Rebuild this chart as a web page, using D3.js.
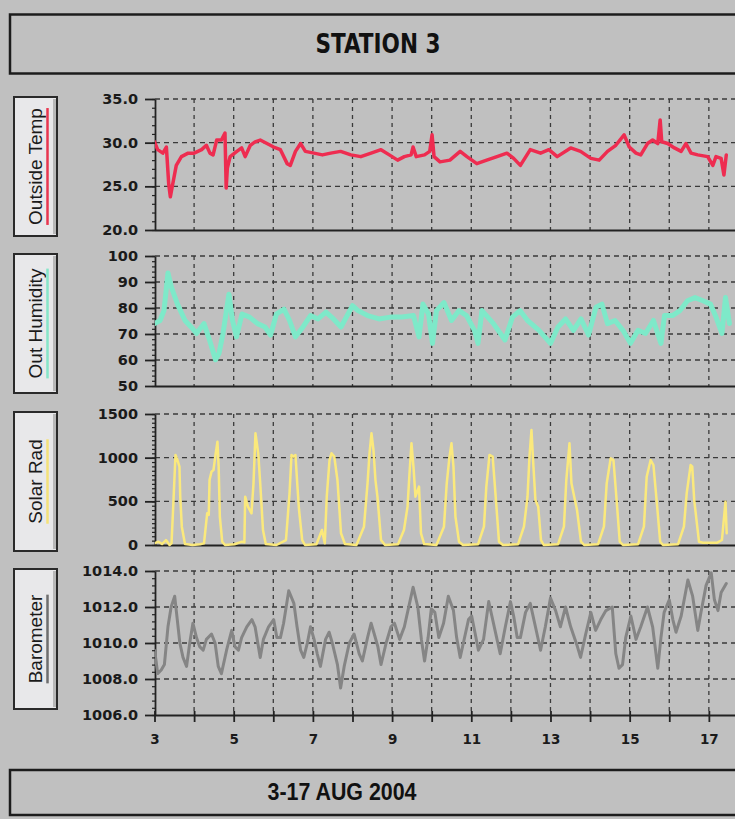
<!DOCTYPE html>
<html><head><meta charset="utf-8">
<script src="https://cdn.jsdelivr.net/npm/d3@7"></script>
<style>html,body{margin:0;padding:0;background:#c0c0c0;}svg{display:block}</style>
</head><body>
<svg id="c" width="735" height="819"></svg>
<script>
// ---------- DATA ----------
const titleText = "STATION 3";
const footerText = "3-17 AUG 2004";
const seriesNames = ["Outside Temp", "Out Humidity", "Solar Rad", "Barometer"];

const tempDays = [3.00,3.08,3.21,3.30,3.36,3.40,3.47,3.55,3.68,3.85,4.00,4.19,4.31,4.40,4.48,4.57,4.69,4.78,4.81,4.84,4.91,5.08,5.20,5.29,5.42,5.54,5.67,5.84,6.01,6.18,6.35,6.43,6.56,6.69,6.81,7.03,7.24,7.45,7.70,7.96,8.21,8.47,8.72,8.93,9.14,9.31,9.48,9.53,9.61,9.82,9.95,10.01,10.06,10.21,10.46,10.72,10.89,11.14,11.39,11.65,11.90,12.07,12.24,12.49,12.75,12.96,13.17,13.51,13.76,14.02,14.23,14.44,14.65,14.86,14.99,15.16,15.28,15.45,15.58,15.71,15.77,15.81,15.96,16.13,16.30,16.42,16.55,16.72,16.97,17.10,17.18,17.31,17.38,17.44];
const tempVals = [30.1,29.2,28.8,29.5,25.2,23.8,25.5,27.4,28.4,28.8,28.8,29.2,29.7,28.8,28.6,30.3,30.3,31.1,24.8,27.1,28.4,29.0,29.4,28.4,29.7,30.1,30.3,29.9,29.5,29.2,27.6,27.4,29.0,29.9,29.0,28.8,28.6,28.8,29.0,28.6,28.4,28.8,29.2,28.6,28.0,28.4,28.6,29.5,28.4,28.6,29.0,30.9,28.4,27.8,28.0,29.0,28.4,27.6,28.0,28.4,28.8,28.2,27.4,29.2,28.8,29.2,28.4,29.4,29.0,28.2,28.0,29.0,29.7,30.9,29.5,28.8,28.6,29.9,30.3,29.9,32.6,30.1,29.9,29.4,29.0,29.9,28.8,28.6,28.4,27.4,28.4,28.2,26.3,28.6];

const humDays = [3.00,3.14,3.24,3.34,3.43,3.58,3.77,3.96,4.06,4.25,4.39,4.54,4.63,4.73,4.88,4.97,5.07,5.21,5.40,5.60,5.79,5.93,6.08,6.27,6.41,6.56,6.75,6.94,7.13,7.33,7.52,7.71,8.00,8.14,8.38,8.67,8.96,9.25,9.54,9.68,9.78,9.92,10.02,10.12,10.31,10.50,10.69,10.88,11.08,11.17,11.27,11.56,11.85,12.04,12.23,12.42,12.71,13.00,13.19,13.38,13.58,13.77,13.96,14.15,14.30,14.44,14.63,14.83,15.02,15.21,15.40,15.60,15.79,15.88,16.08,16.27,16.46,16.65,16.85,17.04,17.18,17.33,17.42,17.52];
const humVals = [74.0,75.2,79.0,93.5,87.8,81.5,75.2,72.1,70.2,74.0,67.7,60.1,62.6,70.2,85.3,75.2,68.9,77.7,76.5,74.0,72.7,69.6,77.7,79.6,75.2,68.9,72.7,77.1,75.8,78.4,75.8,72.7,80.9,79.0,77.1,75.8,76.5,76.5,77.1,68.9,81.5,77.7,66.4,79.0,82.1,75.2,79.0,77.1,71.4,66.4,79.0,74.0,67.7,76.5,79.0,75.2,71.4,66.4,72.7,75.8,71.4,75.8,69.6,80.3,81.5,74.0,75.2,71.4,66.4,71.4,70.2,75.2,66.4,77.1,77.1,79.0,82.8,84.0,82.8,81.5,76.5,70.2,84.0,74.0];

const solarDays = [3.00,3.10,3.19,3.29,3.38,3.43,3.48,3.53,3.58,3.63,3.65,3.69,3.77,3.96,4.15,4.25,4.33,4.37,4.39,4.44,4.49,4.54,4.59,4.62,4.65,4.71,4.78,5.02,5.21,5.27,5.29,5.36,5.45,5.50,5.55,5.62,5.67,5.74,5.81,6.08,6.32,6.41,6.46,6.51,6.56,6.61,6.65,6.73,6.80,7.09,7.23,7.30,7.35,7.42,7.47,7.54,7.62,7.71,7.81,8.10,8.29,8.38,8.43,8.48,8.53,8.58,8.63,8.72,8.82,9.15,9.30,9.39,9.44,9.49,9.54,9.59,9.68,9.73,9.81,10.12,10.31,10.38,10.45,10.50,10.55,10.60,10.69,10.79,11.17,11.32,11.38,11.46,11.54,11.61,11.70,11.80,12.18,12.33,12.42,12.47,12.52,12.57,12.62,12.69,12.76,12.83,13.19,13.34,13.40,13.48,13.53,13.60,13.67,13.77,13.85,14.20,14.35,14.42,14.52,14.59,14.65,14.75,14.83,15.21,15.36,15.43,15.53,15.60,15.68,15.77,15.84,16.22,16.37,16.44,16.54,16.58,16.63,16.75,16.85,17.20,17.33,17.42,17.45];
const solarVals = [19,38,11,57,0,19,515,1031,973,897,553,210,11,0,8,19,363,344,744,840,859,1031,1183,897,324,38,0,8,38,30,553,439,363,706,1279,1050,706,172,11,0,57,592,1031,1012,1031,668,401,57,0,8,172,19,553,973,1050,1012,744,134,11,0,210,706,1050,1279,1088,744,553,57,0,8,172,439,821,1164,897,553,668,134,11,0,210,706,1012,1164,897,324,38,0,8,210,668,1031,1012,592,38,0,8,210,553,1012,1317,897,515,439,57,0,8,210,744,1164,706,553,401,38,0,8,210,706,992,973,630,38,0,8,210,782,973,916,515,38,0,8,210,592,916,897,515,38,25,25,57,496,134];

const baroDays = [3.00,3.04,3.08,3.17,3.25,3.34,3.42,3.51,3.55,3.64,3.72,3.81,3.89,3.97,4.06,4.14,4.23,4.31,4.44,4.53,4.61,4.69,4.82,4.95,5.03,5.12,5.20,5.33,5.46,5.54,5.67,5.75,5.88,6.01,6.09,6.18,6.26,6.39,6.52,6.60,6.69,6.77,6.86,6.94,7.03,7.11,7.19,7.32,7.41,7.49,7.62,7.70,7.79,7.92,8.04,8.17,8.25,8.38,8.47,8.55,8.64,8.72,8.85,8.97,9.06,9.19,9.31,9.44,9.53,9.65,9.74,9.82,9.91,9.99,10.08,10.18,10.30,10.42,10.55,10.63,10.72,10.80,10.93,11.01,11.10,11.18,11.31,11.44,11.52,11.65,11.73,11.86,11.99,12.07,12.16,12.24,12.37,12.49,12.62,12.75,12.87,13.00,13.13,13.25,13.38,13.51,13.68,13.76,13.89,14.02,14.14,14.27,14.40,14.56,14.65,14.73,14.82,14.90,15.03,15.16,15.28,15.45,15.58,15.71,15.79,15.87,16.00,16.09,16.17,16.30,16.47,16.59,16.72,16.80,16.93,17.06,17.14,17.23,17.31,17.44];
const baroVals = [1009.6,1009.0,1008.3,1008.5,1008.8,1010.9,1012.0,1012.6,1011.8,1010.0,1009.2,1008.7,1010.0,1011.1,1010.3,1009.8,1009.6,1010.2,1010.5,1010.0,1008.7,1008.3,1009.6,1010.7,1009.8,1009.6,1010.3,1010.9,1011.3,1010.9,1009.2,1010.2,1010.9,1011.3,1010.3,1010.3,1011.1,1012.9,1012.2,1010.9,1009.6,1009.2,1010.0,1010.9,1010.2,1009.4,1008.7,1010.2,1010.6,1010.0,1008.8,1007.5,1008.7,1010.0,1010.5,1009.4,1009.0,1010.3,1011.1,1010.5,1009.8,1008.8,1010.0,1010.9,1011.1,1010.2,1010.9,1012.2,1013.1,1012.0,1010.2,1009.0,1010.3,1011.9,1011.7,1010.3,1011.1,1012.6,1011.8,1010.3,1009.2,1010.0,1011.3,1011.5,1010.5,1009.6,1010.2,1012.3,1011.5,1010.2,1009.4,1010.9,1012.3,1011.5,1010.3,1010.3,1011.7,1012.2,1010.9,1009.6,1010.9,1012.5,1011.8,1010.9,1012.0,1010.9,1009.8,1009.2,1010.5,1011.7,1010.7,1011.3,1011.8,1012.0,1009.4,1008.6,1008.8,1010.3,1011.5,1010.2,1010.9,1012.0,1010.9,1008.6,1010.3,1011.7,1012.4,1011.3,1010.6,1011.5,1013.5,1012.6,1010.7,1011.7,1013.2,1013.9,1012.4,1011.8,1012.8,1013.3];

const tempTicks = [20,25,30,35];
const humTicks = [50,60,70,80,90,100];
const solarTicks = [0,500,1000,1500];
const baroTicks = [1006,1008,1010,1012,1014];
const dayTicks = [3,4,5,6,7,8,9,10,11,12,13,14,15,16,17];
const dayLabels = [3,5,7,9,11,13,15,17];

// ---------- LAYOUT ----------
const svg = d3.select("#c");
const X0 = 155, XR = 735;
const x = d3.scaleLinear().domain([3, 17.66]).range([154.5, 735]);
const labelFont = "'DejaVu Sans', Verdana, sans-serif";

svg.append("rect").attr("width",735).attr("height",819).attr("fill","#c0c0c0");

// Title box
svg.append("rect").attr("x",10).attr("y",14.5).attr("width",740).attr("height",59)
  .attr("fill","#c0c0c0").attr("stroke","#1c1c1c").attr("stroke-width",2.5);
svg.append("text").attr("x",378).attr("y",53).attr("text-anchor","middle")
  .attr("font-family","'Liberation Sans Narrow','DejaVu Sans Condensed','Arial Narrow',sans-serif")
  .attr("font-weight","bold").attr("font-size",27).attr("fill","#111")
  .attr("textLength",125).attr("lengthAdjust","spacingAndGlyphs").text(titleText);

// Footer box
svg.append("rect").attr("x",10).attr("y",770).attr("width",740).attr("height",45)
  .attr("fill","#c0c0c0").attr("stroke","#1c1c1c").attr("stroke-width",2.5);
svg.append("text").attr("x",342).attr("y",799.5).attr("text-anchor","middle")
  .attr("font-family","'Liberation Sans',Arial,sans-serif")
  .attr("font-weight","bold").attr("font-size",24).attr("fill","#111")
  .attr("textLength",149).attr("lengthAdjust","spacingAndGlyphs").text(footerText);

svg.append("defs").append("clipPath").attr("id","plotclip")
  .append("rect").attr("x",X0).attr("y",80).attr("width",XR-X0).attr("height",650);

const panels = [
  {name:seriesNames[0], days:tempDays, vals:tempVals, domain:[20,35], ticks:tempTicks, minorStep:1, fmt:d=>d.toFixed(1),
   top:99, bottom:230, color:"#ee2c50", lw:3.5, box:[97,236], ul:"#e8364f"},
  {name:seriesNames[1], days:humDays, vals:humVals, domain:[50,100], ticks:humTicks, minorStep:2, fmt:d=>String(d),
   top:256, bottom:386, color:"#7ee9c9", lw:5, box:[254,393], ul:"#86e6c9"},
  {name:seriesNames[2], days:solarDays, vals:solarVals, domain:[0,1500], ticks:solarTicks, minorStep:50, fmt:d=>String(d),
   top:414, bottom:545, color:"#fbe97c", lw:2.5, box:[412,551], ul:"#f4e27a"},
  {name:seriesNames[3], days:baroDays, vals:baroVals, domain:[1006,1014], ticks:baroTicks, minorStep:0.4, fmt:d=>d.toFixed(1),
   top:571, bottom:715, color:"#858585", lw:3, box:[569,709], ul:"#6e6e6e"}
];

panels.forEach((p, i) => {
  const y = d3.scaleLinear().domain(p.domain).range([p.bottom, p.top]);
  const g = svg.append("g");

  // horizontal dashed grid
  g.selectAll(".hg").data(p.ticks.filter(t => t !== p.domain[0])).join("line")
    .attr("x1",X0).attr("x2",XR).attr("y1",d=>y(d)).attr("y2",d=>y(d))
    .attr("stroke","#3a3a3a").attr("stroke-width",1.3).attr("stroke-dasharray","5,4");
  // vertical dashed grid
  g.selectAll(".vg").data(dayTicks.filter(d => d > 3)).join("line")
    .attr("x1",d=>x(d)).attr("x2",d=>x(d)).attr("y1",p.top).attr("y2",p.bottom)
    .attr("stroke","#3a3a3a").attr("stroke-width",1.3).attr("stroke-dasharray","4,4");

  // minor ticks
  const minorVals = d3.range(p.domain[0], p.domain[1] + 1e-9, p.minorStep);
  const minorAx = g.append("g").attr("transform",`translate(${X0},0)`)
    .call(d3.axisLeft(y).tickValues(minorVals).tickSize(3).tickSizeOuter(0).tickFormat(""));
  minorAx.select(".domain").remove();
  minorAx.selectAll("line").attr("stroke","#222").attr("stroke-width",1.2);

  // major y axis
  const yAx = g.append("g").attr("transform",`translate(${X0},0)`)
    .call(d3.axisLeft(y).tickValues(p.ticks).tickSize(10).tickSizeOuter(0).tickPadding(7).tickFormat(p.fmt));
  yAx.select(".domain").attr("stroke","#222").attr("stroke-width",1.8);
  yAx.selectAll(".tick line").attr("stroke","#222").attr("stroke-width",1.8);
  yAx.selectAll(".tick text").attr("font-family",labelFont).attr("font-weight","bold")
    .attr("font-size",14.5).attr("fill","#1a1a1a");

  // bottom axis line
  const isLast = i === panels.length - 1;
  const xb = g.append("g").attr("transform",`translate(0,${p.bottom})`)
    .call(d3.axisBottom(x).tickValues(isLast ? dayTicks : []).tickSize(isLast ? 7 : 0).tickSizeOuter(0)
      .tickPadding(12).tickFormat(d => dayLabels.includes(d) ? d : ""));
  xb.select(".domain").attr("stroke","#222").attr("stroke-width",2);
  if (isLast) {
    xb.selectAll(".tick line").attr("stroke","#222").attr("stroke-width",1.8);
    xb.selectAll(".tick text").attr("font-family",labelFont).attr("font-weight","bold")
      .attr("font-size",13.5).attr("fill","#1a1a1a");
    const xt = g.append("g").attr("transform",`translate(0,${p.bottom})`)
      .call(d3.axisTop(x).tickValues(dayTicks).tickSize(4).tickSizeOuter(0).tickFormat(""));
    xt.select(".domain").remove();
    xt.selectAll("line").attr("stroke","#222").attr("stroke-width",1.8);
  }

  // data line
  const pts = d3.zip(p.days, p.vals);
  const line = d3.line().x(d => x(d[0])).y(d => y(d[1]));
  g.append("path").datum(pts).attr("clip-path","url(#plotclip)")
    .attr("d",line).attr("fill","none").attr("stroke",p.color)
    .attr("stroke-width",p.lw).attr("stroke-linejoin","round").attr("stroke-linecap","round");

  // label box
  const by0 = p.box[0], by1 = p.box[1], cy = (by0 + by1) / 2;
  g.append("rect").attr("x",14).attr("y",by0).attr("width",43).attr("height",by1 - by0)
    .attr("fill","#e8e8ea").attr("stroke","#2a2a2a").attr("stroke-width",2);
  g.append("line").attr("x1",54.5).attr("x2",54.5).attr("y1",by0+2).attr("y2",by1-2)
    .attr("stroke","#b8b8b8").attr("stroke-width",3);
  const t = g.append("text").attr("transform",`translate(42,${cy}) rotate(-90)`)
    .attr("text-anchor","middle").attr("font-family","'Liberation Sans',Arial,sans-serif")
    .attr("font-size",19).attr("fill","#1a1a1a").text(p.name);
  const len = t.node().getComputedTextLength();
  g.append("line").attr("x1",47.5).attr("x2",47.5).attr("y1",cy - len/2).attr("y2",cy + len/2)
    .attr("stroke",p.ul).attr("stroke-width",2.5);
});
</script>
</body></html>
